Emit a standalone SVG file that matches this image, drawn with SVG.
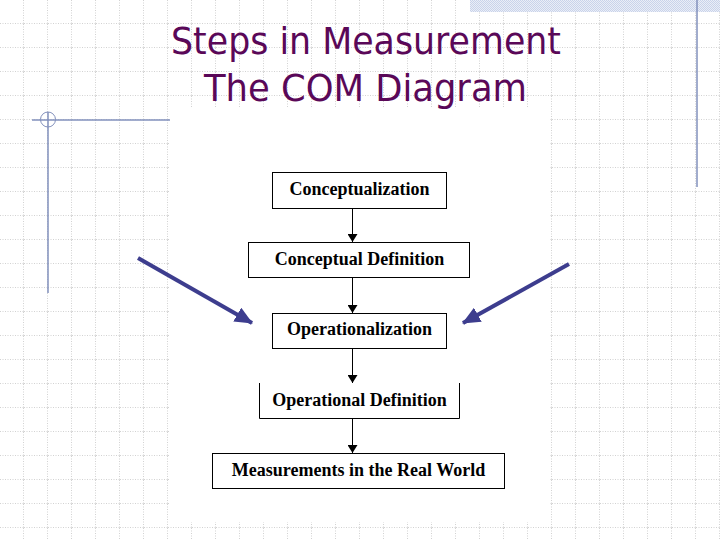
<svg xmlns="http://www.w3.org/2000/svg" width="720" height="540" viewBox="0 0 720 540">
<defs>
<pattern id="grid" width="24" height="24" patternUnits="userSpaceOnUse">
<path d="M0 23.5 H24 M23.5 0 V24" stroke="#d2d2d2" stroke-width="1" stroke-dasharray="1 1.5" fill="none"/>
</pattern>
<pattern id="check" width="2" height="2" patternUnits="userSpaceOnUse">
<rect width="2" height="2" fill="#eaeef7"/>
<rect width="1" height="1" fill="#c9d3ea"/>
<rect x="1" y="1" width="1" height="1" fill="#c9d3ea"/>
</pattern>
<marker id="ah" viewBox="0 0 8 10" refX="8" refY="5" markerWidth="8" markerHeight="10" markerUnits="userSpaceOnUse" orient="auto">
<path d="M0 0 L8 5 L0 10 Z" fill="#000"/>
</marker>
<marker id="bh" viewBox="0 0 18 16" refX="17" refY="8" markerWidth="18" markerHeight="16" markerUnits="userSpaceOnUse" orient="auto">
<path d="M0 0 L18 8 L0 16 Z" fill="#3d3d8e"/>
</marker>
</defs>
<style>
.title{font-family:"DejaVu Sans","Verdana",sans-serif;font-size:38px;fill:#5a0858;text-anchor:middle}
.box{fill:#fff;stroke:#000;stroke-width:1}
.lbl{font-family:"Liberation Serif","Times New Roman",serif;font-weight:bold;font-size:18px;fill:#000;text-anchor:middle}
.deco{stroke:#8290bc;stroke-width:1.5;fill:none}
.conn{stroke:#000;stroke-width:1;fill:none}
.big{stroke:#3d3d8e;stroke-width:4;fill:none}
</style>
<rect width="720" height="540" fill="#fff"/>
<rect width="720" height="540" fill="url(#grid)"/>
<rect x="470" y="0" width="250" height="12" fill="url(#check)"/>
<g id="decoration">
<line class="deco" x1="697" y1="0" x2="697" y2="187"/>
<line class="deco" x1="32" y1="120" x2="170" y2="120"/>
<line class="deco" x1="48" y1="112" x2="48" y2="293"/>
<circle cx="48" cy="119.5" r="7.5" stroke="#8290bc" stroke-width="1" fill="none"/>
</g>
<rect x="170" y="107" width="380" height="415" fill="#fff"/>
<g id="title">
<text class="title" x="366" y="54" textLength="390" lengthAdjust="spacingAndGlyphs">Steps in Measurement</text>
<text class="title" x="365.5" y="101" textLength="323" lengthAdjust="spacingAndGlyphs">The COM Diagram</text>
</g>
<g id="n1">
<rect class="box" x="272.5" y="172.5" width="174" height="36"/>
<text class="lbl" x="359.5" y="195">Conceptualization</text>
</g>
<g id="n2">
<rect class="box" x="248.5" y="242.5" width="221" height="35"/>
<text class="lbl" x="359.5" y="265">Conceptual Definition</text>
</g>
<g id="n3">
<rect class="box" x="272.5" y="313.5" width="174" height="35"/>
<text class="lbl" x="359.5" y="335">Operationalization</text>
</g>
<g id="n4">
<path class="box" d="M259.5 383 V418.5 H459.5 V383"/>
<text class="lbl" x="359.5" y="406">Operational Definition</text>
</g>
<g id="n5">
<rect class="box" x="212.5" y="453.5" width="292" height="35"/>
<text class="lbl" x="358.5" y="476">Measurements in the Real World</text>
</g>
<g id="connectors">
<line class="conn" x1="352.5" y1="209" x2="352.5" y2="242" marker-end="url(#ah)"/>
<line class="conn" x1="352.5" y1="278" x2="352.5" y2="313" marker-end="url(#ah)"/>
<line class="conn" x1="352.5" y1="349" x2="352.5" y2="383" marker-end="url(#ah)"/>
<line class="conn" x1="352.5" y1="419" x2="352.5" y2="453" marker-end="url(#ah)"/>
<line class="big" x1="138" y1="258" x2="252" y2="323" marker-end="url(#bh)"/>
<line class="big" x1="569" y1="264" x2="463" y2="323" marker-end="url(#bh)"/>
</g>
</svg>
